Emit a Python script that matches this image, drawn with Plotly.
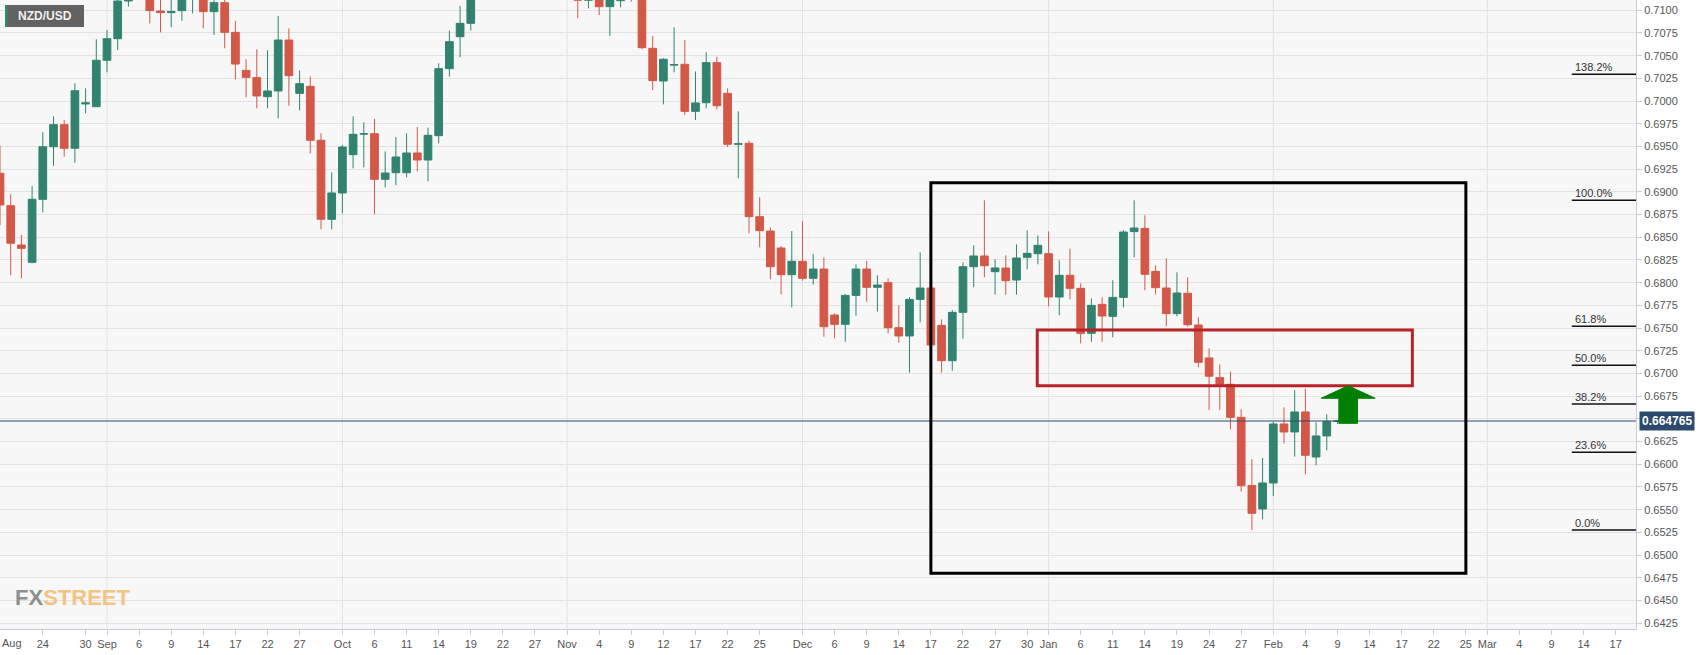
import plotly.graph_objects as go
import pandas as pd

# ---------------- data ----------------
dates = pd.bdate_range('2021-08-18', '2022-02-09').strftime('%Y-%m-%d').tolist()

open_ = [0.69205, 0.68848, 0.68415, 0.68224, 0.68918, 0.69497, 0.69740, 0.69480, 0.69968, 0.69938,
         0.70449, 0.70687, 0.71102, 0.71500, 0.71350, 0.70992, 0.70974, 0.70996, 0.71200, 0.71280,
         0.70985, 0.71084, 0.70757, 0.70338, 0.70258, 0.70048, 0.70111, 0.70672, 0.70085, 0.70162,
         0.69568, 0.68698, 0.68988, 0.69410, 0.69636, 0.69641, 0.69138, 0.69211, 0.69211, 0.69428,
         0.69351, 0.69619, 0.70357, 0.70709, 0.70856, 0.71400, 0.71600, 0.71650, 0.71700, 0.71800,
         0.71650, 0.71450, 0.71800, 0.71650, 0.71500, 0.71110, 0.71250, 0.71040, 0.71105, 0.71400,
         0.71300, 0.70581, 0.70221, 0.70396, 0.70405, 0.69887, 0.69982, 0.70423, 0.70085, 0.69524,
         0.69535, 0.68727, 0.68569, 0.68382, 0.68088, 0.68235, 0.68048, 0.68150, 0.67644, 0.67541,
         0.67860, 0.68150, 0.67949, 0.68000, 0.67504, 0.67413, 0.67816, 0.67941, 0.67530, 0.67141,
         0.67673, 0.68176, 0.68294, 0.68121, 0.68161, 0.68029, 0.68279, 0.68319, 0.68319, 0.67842,
         0.68081, 0.67938, 0.67442, 0.67761, 0.67629, 0.67838, 0.68562, 0.68598, 0.68125, 0.67941,
         0.67659, 0.67883, 0.67534, 0.67171, 0.66954, 0.66881, 0.66517, 0.65765, 0.65508, 0.65794,
         0.66444, 0.66356, 0.66576, 0.66080, 0.66312, 0.66473]
high = [0.69509, 0.68973, 0.68525, 0.69065, 0.69656, 0.69832, 0.69791, 0.70196, 0.70140, 0.70680,
        0.70783, 0.71250, 0.71700, 0.71650, 0.71450, 0.71200, 0.71180, 0.71300, 0.71400, 0.71350,
        0.71180, 0.71160, 0.70882, 0.70460, 0.70570, 0.70560, 0.70937, 0.70801, 0.70338, 0.70272,
        0.69645, 0.69215, 0.69516, 0.69832, 0.69766, 0.69803, 0.69446, 0.69604, 0.69645, 0.69714,
        0.69707, 0.70416, 0.70775, 0.71047, 0.71500, 0.71750, 0.72190, 0.71800, 0.71900, 0.71950,
        0.71750, 0.71900, 0.71850, 0.71800, 0.71600, 0.71350, 0.71350, 0.71280, 0.71450, 0.71700,
        0.71400, 0.70717, 0.70471, 0.70812, 0.70672, 0.70327, 0.70537, 0.70489, 0.70140, 0.69887,
        0.69564, 0.68940, 0.68609, 0.68404, 0.68569, 0.68679, 0.68316, 0.68279, 0.67662, 0.67875,
        0.68202, 0.68239, 0.68081, 0.68048, 0.67750, 0.67842, 0.68334, 0.67960, 0.67596, 0.67699,
        0.68224, 0.68411, 0.68907, 0.68257, 0.68301, 0.68422, 0.68576, 0.68521, 0.68565, 0.68246,
        0.68374, 0.67993, 0.67827, 0.67838, 0.68026, 0.68580, 0.68907, 0.68742, 0.68191, 0.68268,
        0.68114, 0.68059, 0.67618, 0.67277, 0.67101, 0.67020, 0.66605, 0.66055, 0.66069, 0.66469,
        0.66627, 0.66818, 0.66833, 0.66462, 0.66550, 0.66488]
low = [0.68632, 0.68084, 0.68048, 0.68213, 0.68775, 0.69288, 0.69387, 0.69321, 0.69865, 0.69935,
       0.70317, 0.70562, 0.71040, 0.71200, 0.70856, 0.70757, 0.70812, 0.70885, 0.70966, 0.70801,
       0.70728, 0.70581, 0.70239, 0.70041, 0.69920, 0.69920, 0.69810, 0.69949, 0.69898, 0.69424,
       0.68587, 0.68587, 0.68764, 0.69259, 0.69270, 0.68753, 0.69050, 0.69072, 0.69160, 0.69226,
       0.69116, 0.69535, 0.70269, 0.70482, 0.70775, 0.71300, 0.71450, 0.71400, 0.71500, 0.71550,
       0.71300, 0.71350, 0.71500, 0.71300, 0.70911, 0.71021, 0.70948, 0.70717, 0.71032, 0.71095,
       0.70570, 0.70122, 0.69964, 0.70316, 0.69847, 0.69791, 0.69920, 0.69909, 0.69494, 0.69149,
       0.68543, 0.68389, 0.68037, 0.67872, 0.67728, 0.68022, 0.67978, 0.67405, 0.67387, 0.67350,
       0.67637, 0.67791, 0.67681, 0.67442, 0.67339, 0.67009, 0.67563, 0.67280, 0.67009, 0.67031,
       0.67383, 0.67949, 0.68059, 0.67868, 0.67868, 0.67868, 0.68147, 0.68202, 0.67739, 0.67640,
       0.67816, 0.67332, 0.67350, 0.67350, 0.67398, 0.67728, 0.68279, 0.67916, 0.67872, 0.67519,
       0.67629, 0.67515, 0.67068, 0.66598, 0.66598, 0.66385, 0.65699, 0.65276, 0.65394, 0.65651,
       0.66231, 0.66084, 0.65889, 0.65989, 0.66154, 0.66444]
close = [0.68856, 0.68434, 0.68378, 0.68918, 0.69497, 0.69740, 0.69480, 0.70114, 0.69980, 0.70449,
         0.70687, 0.71102, 0.71500, 0.71350, 0.70996, 0.70974, 0.70985, 0.71200, 0.71280, 0.70985,
         0.71084, 0.70757, 0.70408, 0.70261, 0.70056, 0.70111, 0.70672, 0.70280, 0.70192, 0.69568,
         0.68698, 0.68988, 0.69494, 0.69634, 0.69640, 0.69138, 0.69208, 0.69384, 0.69428, 0.69351,
         0.69623, 0.70357, 0.70654, 0.70856, 0.71400, 0.71600, 0.71650, 0.71700, 0.71800, 0.71650,
         0.71450, 0.71800, 0.71650, 0.71500, 0.71110, 0.71250, 0.71040, 0.71180, 0.71300, 0.71300,
         0.70588, 0.70225, 0.70460, 0.70401, 0.69887, 0.69979, 0.70423, 0.69949, 0.69524, 0.69530,
         0.68727, 0.68573, 0.68176, 0.68088, 0.68235, 0.68048, 0.68150, 0.67515, 0.67541, 0.67860,
         0.68150, 0.67949, 0.67974, 0.67504, 0.67413, 0.67816, 0.67941, 0.67314, 0.67141, 0.67673,
         0.68176, 0.68294, 0.68187, 0.68162, 0.68022, 0.68272, 0.68323, 0.68411, 0.67842, 0.68081,
         0.67938, 0.67442, 0.67750, 0.67633, 0.67838, 0.68558, 0.68602, 0.68092, 0.67945, 0.67659,
         0.67886, 0.67537, 0.67123, 0.66970, 0.66881, 0.66517, 0.65765, 0.65460, 0.65794, 0.66444,
         0.66356, 0.66576, 0.66099, 0.66312, 0.66473, 0.664765]

axis_days = pd.bdate_range('2021-08-18', '2022-03-22').strftime('%Y-%m-%d').tolist()

tick_dates = ['2021-08-24', '2021-08-30', '2021-09-01', '2021-09-06', '2021-09-09', '2021-09-14',
              '2021-09-17', '2021-09-22', '2021-09-27', '2021-10-01', '2021-10-06', '2021-10-11',
              '2021-10-14', '2021-10-19', '2021-10-22', '2021-10-27', '2021-11-01', '2021-11-04',
              '2021-11-09', '2021-11-12', '2021-11-17', '2021-11-22', '2021-11-25', '2021-12-01',
              '2021-12-06', '2021-12-09', '2021-12-14', '2021-12-17', '2021-12-22', '2021-12-27',
              '2021-12-30', '2022-01-03', '2022-01-06', '2022-01-11', '2022-01-14', '2022-01-19',
              '2022-01-24', '2022-01-27', '2022-02-01', '2022-02-04', '2022-02-09', '2022-02-14',
              '2022-02-17', '2022-02-22', '2022-02-25', '2022-03-01', '2022-03-04', '2022-03-09',
              '2022-03-14', '2022-03-17']
tick_text = ['24', '30', 'Sep', '6', '9', '14', '17', '22', '27', 'Oct', '6', '11', '14', '19', '22',
             '27', 'Nov', '4', '9', '12', '17', '22', '25', 'Dec', '6', '9', '14', '17', '22', '27',
             '30', 'Jan', '6', '11', '14', '19', '24', '27', 'Feb', '4', '9', '14', '17', '22', '25',
             'Mar', '4', '9', '14', '17']
month_starts = ['2021-09-01', '2021-10-01', '2021-11-01', '2021-12-01', '2022-01-03',
                '2022-02-01', '2022-03-01']

price_ticks = [0.6425, 0.6450, 0.6475, 0.6500, 0.6525, 0.6550, 0.6575, 0.6600, 0.6625, 0.6650,
               0.6675, 0.6700, 0.6725, 0.6750, 0.6775, 0.6800, 0.6825, 0.6850, 0.6875, 0.6900,
               0.6925, 0.6950, 0.6975, 0.7000, 0.7025, 0.7050, 0.7075, 0.7100]
price_tick_text = ['0.6425', '0.6450', '0.6475', '0.6500', '0.6525', '0.6550', '0.6575', '0.6600',
                   '0.6625', '', '0.6675', '0.6700', '0.6725', '0.6750', '0.6775', '0.6800',
                   '0.6825', '0.6850', '0.6875', '0.6900', '0.6925', '0.6950', '0.6975', '0.7000',
                   '0.7025', '0.7050', '0.7075', '0.7100']

last_price = 0.664765
fib_low, fib_high = 0.65276, 0.68907
fib_ratios = [1.382, 1.0, 0.618, 0.5, 0.382, 0.236, 0.0]
fib_labels = ['138.2%', '100.0%', '61.8%', '50.0%', '38.2%', '23.6%', '0.0%']

black_box = dict(x0='2021-12-17', x1='2022-02-25', y0=0.6480, y1=0.6910)
red_box = dict(x0='2021-12-31', x1='2022-02-18', y0=0.66865, y1=0.67479)
arrow_day = '2022-02-10'
arrow_tip, arrow_head_base, arrow_bottom = 0.66865, 0.66727, 0.66451

GREEN = '#318370'
RED = '#d35848'
NAVY = '#2c4a6b'

# ---------------- figure ----------------
fig = go.Figure()
fig.add_trace(go.Candlestick(
    x=dates, open=open_, high=high, low=low, close=close,
    increasing=dict(line=dict(color=GREEN, width=1), fillcolor=GREEN),
    decreasing=dict(line=dict(color=RED, width=1), fillcolor=RED),
    whiskerwidth=0, showlegend=False, hoverinfo='skip'))

idx = {d: i for i, d in enumerate(axis_days)}
shapes = []
for d in month_starts:
    shapes.append(dict(type='line', xref='x', yref='paper', x0=idx[d], x1=idx[d], y0=0, y1=1,
                       line=dict(color='#e2e2e2', width=1), layer='below'))

# current price line
shapes.append(dict(type='line', xref='paper', yref='y', x0=0, x1=1, y0=last_price, y1=last_price,
                   line=dict(color=NAVY, width=1)))

# black box
shapes.append(dict(type='rect', xref='x', yref='y', x0=idx[black_box['x0']], x1=idx[black_box['x1']],
                   y0=black_box['y0'], y1=black_box['y1'], line=dict(color='#000000', width=3)))
# red box
shapes.append(dict(type='rect', xref='x', yref='y', x0=idx[red_box['x0']] - 0.06, x1=idx[red_box['x1']],
                   y0=red_box['y0'], y1=red_box['y1'], line=dict(color='#b8232a', width=3)))

# green arrow
c = idx[arrow_day]
hw, sw = 2.52, 0.87
path = (f"M {c - sw} {arrow_bottom} L {c - sw} {arrow_head_base} L {c - hw} {arrow_head_base} "
        f"L {c} {arrow_tip} L {c + hw} {arrow_head_base} L {c + sw} {arrow_head_base} "
        f"L {c + sw} {arrow_bottom} Z")
shapes.append(dict(type='path', xref='x', yref='y', path=path, fillcolor='#008000',
                   line=dict(color='#008000', width=1)))

# fib lines
fib_start = idx['2022-03-11'] - 0.1
x_end = 152.9
annotations = []
for r, lab in zip(fib_ratios, fib_labels):
    lvl = fib_low + r * (fib_high - fib_low)
    shapes.append(dict(type='line', xref='x', yref='y', x0=fib_start, x1=x_end, y0=lvl, y1=lvl,
                       line=dict(color='#111111', width=1.5)))
    annotations.append(dict(xref='x', yref='y', x=fib_start, y=lvl, text=lab, showarrow=False,
                            xanchor='left', yanchor='bottom', xshift=1, yshift=-1,
                            font=dict(family='Liberation Sans', size=11, color='#333333')))

# NZD/USD title box
shapes.append(dict(type='rect', xref='paper', yref='paper', xsizemode='pixel', ysizemode='pixel',
                   xanchor=0, yanchor=1, x0=5, x1=84, y0=-5, y1=-27,
                   fillcolor='#626262', line=dict(width=0)))
shapes.append(dict(type='rect', xref='paper', yref='paper', xsizemode='pixel', ysizemode='pixel',
                   xanchor=0, yanchor=1, x0=5, x1=7.5, y0=-5, y1=-27,
                   fillcolor='#2e8b74', line=dict(width=0)))
annotations.append(dict(xref='paper', yref='paper', x=0, y=1, xanchor='left', yanchor='middle',
                        xshift=16, yshift=-16, showarrow=False, text='<b>NZD/USD</b>',
                        font=dict(family='Liberation Sans', size=12, color='#f0f0f0')))

# FXSTREET watermark
annotations.append(dict(xref='paper', yref='paper', x=0, y=0, xanchor='left', yanchor='bottom',
                        xshift=13, yshift=17, showarrow=False,
                        text='<b><span style="color:#8e8e8e">FX</span>'
                             '<span style="color:#f2c383">STREET</span></b>',
                        font=dict(family='Liberation Sans', size=22)))

# Aug label at the left edge
annotations.append(dict(xref='paper', yref='paper', x=0, y=0, xanchor='left', yanchor='top',
                        xshift=0, yshift=-6, showarrow=False, text='Aug',
                        font=dict(family='Liberation Sans', size=11, color='#555555')))

# last price label
annotations.append(dict(xref='paper', yref='y', x=1, y=last_price, xanchor='left', yanchor='middle',
                        xshift=3, showarrow=False, text='<b>0.664765</b>', bgcolor=NAVY,
                        borderpad=2, font=dict(family='Liberation Sans', size=12, color='white')))

fig.update_layout(
    width=1707, height=655,
    margin=dict(l=0, r=71, t=0, b=26),
    paper_bgcolor='white', plot_bgcolor='#f7f7f7',
    boxgap=0.28, boxgroupgap=0,
    shapes=shapes, annotations=annotations,
    xaxis=dict(type='category', categoryorder='array', categoryarray=axis_days,
               range=[0, x_end], rangeslider=dict(visible=False),
               tickmode='array', tickvals=tick_dates, ticktext=tick_text,
               showgrid=False, ticks='outside', ticklen=5, tickcolor='#c8cddc',
               showline=True, linecolor='#c8cddc', linewidth=1, mirror=True,
               tickfont=dict(family='Liberation Sans', size=11, color='#555555'),
               fixedrange=True),
    yaxis=dict(side='right', range=[0.64186, 0.71113],
               tickmode='array', tickvals=price_ticks, ticktext=price_tick_text,
               showgrid=True, gridcolor='#e2e2e2', gridwidth=1,
               ticks='outside', ticklen=5, tickcolor='#c8cddc',
               showline=True, linecolor='#c8cddc', linewidth=1, mirror=True,
               zeroline=False,
               tickfont=dict(family='Liberation Sans', size=11, color='#555555')),
    font=dict(family='Liberation Sans'),
)

fig.write_html('out.html', config={'displayModeBar': False},
               post_script="document.body.style.margin='0px';document.body.style.overflow='hidden';")
